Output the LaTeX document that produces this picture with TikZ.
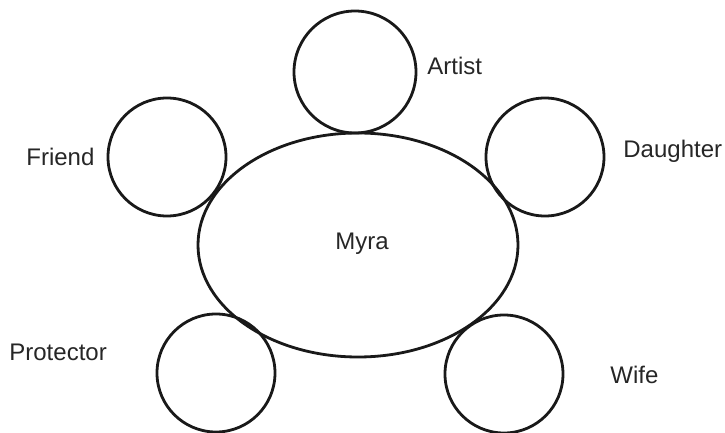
\documentclass[tikz,border=0pt]{standalone}
\usepackage{fontspec}
\setmainfont{Liberation Sans}
\usetikzlibrary{shapes.geometric}
\begin{document}
\begin{tikzpicture}[x=0.5pt,y=-0.5pt,
  role/.style={circle,draw=black!90,line width=1.4pt,minimum size=59pt,inner sep=0pt},
  core/.style={ellipse,draw=black!90,line width=1.4pt,minimum width=160pt,minimum height=112pt,inner sep=0pt},
  lbl/.style={inner sep=0pt,font=\fontsize{12pt}{14pt}\selectfont,text=black!85}]
\useasboundingbox (0,0) rectangle (725,433);
\node[core] (myra) at (358,245) {};
\node[role,minimum size=61pt] (artist) at (355,72) {};
\node[role] (friend) at (167,157) {};
\node[role] (daughter) at (545,157) {};
\node[role] (protector) at (216,373) {};
\node[role] (wife) at (504,374) {};
\node[lbl,anchor=base] (myratext) at (362,250) {Myra};
\node[lbl,anchor=base west] (artisttext) at (427,75) {Artist};
\node[lbl,anchor=base west] (friendtext) at (26,166) {Friend};
\node[lbl,anchor=base west] (daughtertext) at (623,158) {Daughter};
\node[lbl,anchor=base west] (protectortext) at (9,361) {Protector};
\node[lbl,anchor=base west] (wifetext) at (610,384) {Wife};
\end{tikzpicture}
\end{document}
